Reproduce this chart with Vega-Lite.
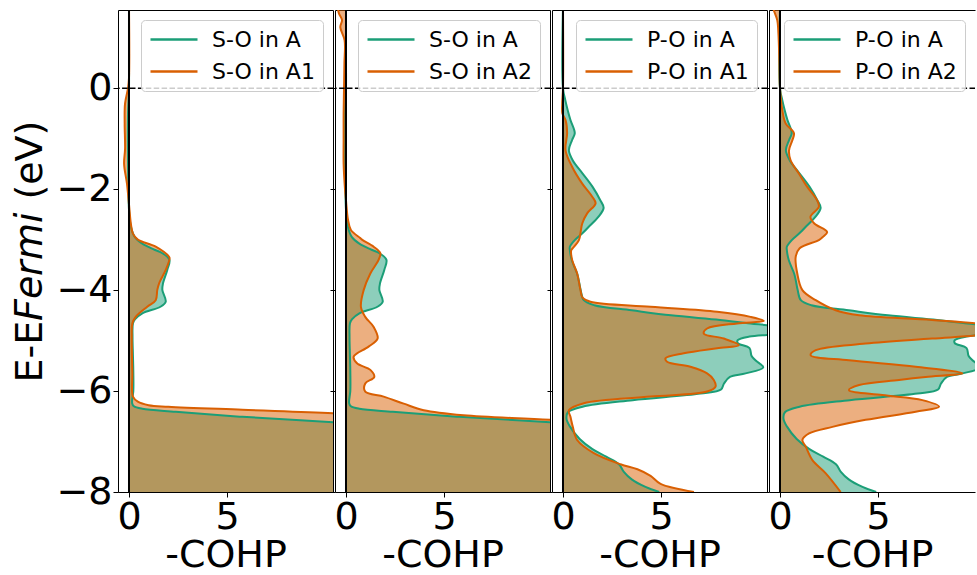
{
  "$schema": "https://vega.github.io/schema/vega-lite/v6.json",
  "padding": {"left": 11, "top": 8, "right": 0, "bottom": 0},
  "config": {
    "font": "DejaVu Sans",
    "view": {"stroke": "black", "strokeWidth": 1},
    "axis": {"labelFontSize": 38, "titleFontSize": 38, "labelColor": "black", "titleColor": "black", "tickColor": "black", "tickSize": 5, "tickWidth": 1, "grid": false, "domain": false, "labelFont": "DejaVu Sans", "titleFont": "DejaVu Sans", "titleFontWeight": "normal", "labelPadding": 1, "titlePadding": 0},
    "legend": {"symbolType": "M-1,0H3.7", "symbolSize": 400, "symbolStrokeWidth": 2.5, "labelFontSize": 22, "labelFont": "DejaVu Sans", "labelOffset": 40, "rowPadding": 9, "padding": 8, "fillColor": "rgba(255,255,255,0.8)", "strokeColor": "#cccccc", "cornerRadius": 4, "labelColor": "black"}
  },
  "data": {"values": [
    {"c":"S-O in A","E":1.6,"v":0},{"c":"S-O in A","E":0.5,"v":0},{"c":"S-O in A","E":0,"v":0},{"c":"S-O in A","E":-0.5,"v":-0.05},{"c":"S-O in A","E":-1.0,"v":-0.06},{"c":"S-O in A","E":-1.5,"v":-0.05},{"c":"S-O in A","E":-2.0,"v":-0.03},{"c":"S-O in A","E":-2.4,"v":0},{"c":"S-O in A","E":-2.75,"v":0.1},{"c":"S-O in A","E":-2.95,"v":0.3},{"c":"S-O in A","E":-3.08,"v":0.68},{"c":"S-O in A","E":-3.2,"v":1.3},{"c":"S-O in A","E":-3.27,"v":1.7},{"c":"S-O in A","E":-3.4,"v":2.06},{"c":"S-O in A","E":-3.6,"v":1.95},{"c":"S-O in A","E":-3.87,"v":1.73},{"c":"S-O in A","E":-4.0,"v":1.7},{"c":"S-O in A","E":-4.23,"v":1.87},{"c":"S-O in A","E":-4.33,"v":1.6},{"c":"S-O in A","E":-4.46,"v":0.68},{"c":"S-O in A","E":-4.58,"v":0.3},{"c":"S-O in A","E":-4.66,"v":0.2},{"c":"S-O in A","E":-4.93,"v":0.18},{"c":"S-O in A","E":-5.28,"v":0.2},{"c":"S-O in A","E":-5.61,"v":0.22},{"c":"S-O in A","E":-6.0,"v":0.22},{"c":"S-O in A","E":-6.24,"v":0.16},{"c":"S-O in A","E":-6.3,"v":0.25},{"c":"S-O in A","E":-6.35,"v":0.68},{"c":"S-O in A","E":-6.41,"v":2.38},{"c":"S-O in A","E":-6.51,"v":5.77},{"c":"S-O in A","E":-6.62,"v":10.46},{"c":"S-O in A","E":-6.75,"v":15},{"c":"S-O in A","E":-8,"v":30},
    {"c":"S-O in A1","E":1.6,"v":0},{"c":"S-O in A1","E":0.2,"v":0},{"c":"S-O in A1","E":0,"v":-0.05},{"c":"S-O in A1","E":-0.3,"v":-0.2},{"c":"S-O in A1","E":-0.7,"v":-0.22},{"c":"S-O in A1","E":-1.2,"v":-0.2},{"c":"S-O in A1","E":-1.5,"v":-0.25},{"c":"S-O in A1","E":-1.9,"v":-0.1},{"c":"S-O in A1","E":-2.3,"v":0},{"c":"S-O in A1","E":-2.7,"v":0.1},{"c":"S-O in A1","E":-2.88,"v":0.2},{"c":"S-O in A1","E":-3.0,"v":0.45},{"c":"S-O in A1","E":-3.14,"v":1.36},{"c":"S-O in A1","E":-3.34,"v":2.04},{"c":"S-O in A1","E":-3.37,"v":2.07},{"c":"S-O in A1","E":-3.6,"v":1.87},{"c":"S-O in A1","E":-3.87,"v":1.53},{"c":"S-O in A1","E":-4.0,"v":1.44},{"c":"S-O in A1","E":-4.2,"v":1.36},{"c":"S-O in A1","E":-4.33,"v":0.93},{"c":"S-O in A1","E":-4.53,"v":0.34},{"c":"S-O in A1","E":-4.66,"v":0.17},{"c":"S-O in A1","E":-4.93,"v":0.14},{"c":"S-O in A1","E":-5.65,"v":0.17},{"c":"S-O in A1","E":-6.11,"v":0.2},{"c":"S-O in A1","E":-6.21,"v":0.45},{"c":"S-O in A1","E":-6.28,"v":1.0},{"c":"S-O in A1","E":-6.31,"v":2.0},{"c":"S-O in A1","E":-6.37,"v":5.77},{"c":"S-O in A1","E":-6.44,"v":10.46},{"c":"S-O in A1","E":-6.55,"v":15},{"c":"S-O in A1","E":-8,"v":30},
    {"c":"S-O in A2","E":1.6,"v":-0.42},{"c":"S-O in A2","E":1.48,"v":-0.36},{"c":"S-O in A2","E":1.35,"v":-0.2},{"c":"S-O in A2","E":1.21,"v":-0.29},{"c":"S-O in A2","E":0.95,"v":-0.07},{"c":"S-O in A2","E":0.5,"v":-0.08},{"c":"S-O in A2","E":0,"v":-0.1},{"c":"S-O in A2","E":-0.5,"v":-0.12},{"c":"S-O in A2","E":-1.0,"v":-0.12},{"c":"S-O in A2","E":-1.5,"v":-0.12},{"c":"S-O in A2","E":-2.0,"v":-0.05},{"c":"S-O in A2","E":-2.22,"v":0},{"c":"S-O in A2","E":-2.6,"v":0.1},{"c":"S-O in A2","E":-2.81,"v":0.25},{"c":"S-O in A2","E":-2.97,"v":0.73},{"c":"S-O in A2","E":-3.01,"v":0.85},{"c":"S-O in A2","E":-3.14,"v":1.41},{"c":"S-O in A2","E":-3.27,"v":1.75},{"c":"S-O in A2","E":-3.4,"v":1.66},{"c":"S-O in A2","E":-3.67,"v":1.24},{"c":"S-O in A2","E":-4.0,"v":0.9},{"c":"S-O in A2","E":-4.33,"v":0.76},{"c":"S-O in A2","E":-4.53,"v":0.98},{"c":"S-O in A2","E":-4.73,"v":1.41},{"c":"S-O in A2","E":-4.96,"v":1.61},{"c":"S-O in A2","E":-5.12,"v":1.15},{"c":"S-O in A2","E":-5.32,"v":0.39},{"c":"S-O in A2","E":-5.45,"v":0.56},{"c":"S-O in A2","E":-5.58,"v":1.24},{"c":"S-O in A2","E":-5.72,"v":1.44},{"c":"S-O in A2","E":-5.85,"v":0.98},{"c":"S-O in A2","E":-6.01,"v":0.98},{"c":"S-O in A2","E":-6.11,"v":1.92},{"c":"S-O in A2","E":-6.25,"v":2.94},{"c":"S-O in A2","E":-6.38,"v":3.96},{"c":"S-O in A2","E":-6.48,"v":5.99},{"c":"S-O in A2","E":-6.57,"v":10.4},{"c":"S-O in A2","E":-6.7,"v":15},{"c":"S-O in A2","E":-8,"v":30},
    {"c":"P-O in A","E":1.6,"v":0},{"c":"P-O in A","E":0,"v":0},{"c":"P-O in A","E":-0.24,"v":0.12},{"c":"P-O in A","E":-0.45,"v":0.25},{"c":"P-O in A","E":-0.63,"v":0.38},{"c":"P-O in A","E":-0.89,"v":0.6},{"c":"P-O in A","E":-1.03,"v":0.46},{"c":"P-O in A","E":-1.23,"v":0.3},{"c":"P-O in A","E":-1.43,"v":0.5},{"c":"P-O in A","E":-1.69,"v":1.0},{"c":"P-O in A","E":-1.95,"v":1.5},{"c":"P-O in A","E":-2.22,"v":1.9},{"c":"P-O in A","E":-2.37,"v":2.07},{"c":"P-O in A","E":-2.55,"v":1.8},{"c":"P-O in A","E":-2.75,"v":1.3},{"c":"P-O in A","E":-2.87,"v":1.0},{"c":"P-O in A","E":-3.01,"v":0.6},{"c":"P-O in A","E":-3.14,"v":0.35},{"c":"P-O in A","E":-3.21,"v":0.35},{"c":"P-O in A","E":-3.41,"v":0.45},{"c":"P-O in A","E":-3.67,"v":0.72},{"c":"P-O in A","E":-3.8,"v":0.8},{"c":"P-O in A","E":-4.0,"v":0.9},{"c":"P-O in A","E":-4.2,"v":1.06},{"c":"P-O in A","E":-4.3,"v":1.6},{"c":"P-O in A","E":-4.4,"v":3.5},{"c":"P-O in A","E":-4.5,"v":5.5},{"c":"P-O in A","E":-4.59,"v":8.0},{"c":"P-O in A","E":-4.66,"v":9.55},{"c":"P-O in A","E":-4.72,"v":10.8},{"c":"P-O in A","E":-4.8,"v":11.5},{"c":"P-O in A","E":-4.87,"v":10.8},{"c":"P-O in A","E":-4.92,"v":9.5},{"c":"P-O in A","E":-4.99,"v":8.9},{"c":"P-O in A","E":-5.05,"v":8.9},{"c":"P-O in A","E":-5.15,"v":9.5},{"c":"P-O in A","E":-5.3,"v":9.6},{"c":"P-O in A","E":-5.39,"v":9.8},{"c":"P-O in A","E":-5.53,"v":10.2},{"c":"P-O in A","E":-5.65,"v":9.3},{"c":"P-O in A","E":-5.72,"v":8.5},{"c":"P-O in A","E":-5.85,"v":8.2},{"c":"P-O in A","E":-5.97,"v":8.05},{"c":"P-O in A","E":-6.05,"v":7.0},{"c":"P-O in A","E":-6.18,"v":3.55},{"c":"P-O in A","E":-6.31,"v":1.0},{"c":"P-O in A","E":-6.42,"v":0.25},{"c":"P-O in A","E":-6.55,"v":0.18},{"c":"P-O in A","E":-6.7,"v":0.35},{"c":"P-O in A","E":-6.95,"v":0.85},{"c":"P-O in A","E":-7.15,"v":1.5},{"c":"P-O in A","E":-7.3,"v":2.2},{"c":"P-O in A","E":-7.45,"v":2.85},{"c":"P-O in A","E":-7.6,"v":3.1},{"c":"P-O in A","E":-7.75,"v":3.5},{"c":"P-O in A","E":-7.9,"v":4.2},{"c":"P-O in A","E":-8.0,"v":4.9},
    {"c":"P-O in A1","E":1.6,"v":0},{"c":"P-O in A1","E":0,"v":0},{"c":"P-O in A1","E":-0.3,"v":-0.04},{"c":"P-O in A1","E":-0.5,"v":-0.03},{"c":"P-O in A1","E":-0.63,"v":0.13},{"c":"P-O in A1","E":-0.89,"v":0.21},{"c":"P-O in A1","E":-1.23,"v":0.13},{"c":"P-O in A1","E":-1.56,"v":0.47},{"c":"P-O in A1","E":-1.89,"v":0.98},{"c":"P-O in A1","E":-2.15,"v":1.49},{"c":"P-O in A1","E":-2.28,"v":1.66},{"c":"P-O in A1","E":-2.48,"v":1.23},{"c":"P-O in A1","E":-2.68,"v":0.98},{"c":"P-O in A1","E":-2.87,"v":0.89},{"c":"P-O in A1","E":-3.01,"v":0.81},{"c":"P-O in A1","E":-3.17,"v":0.5},{"c":"P-O in A1","E":-3.21,"v":0.42},{"c":"P-O in A1","E":-3.41,"v":0.47},{"c":"P-O in A1","E":-3.67,"v":0.72},{"c":"P-O in A1","E":-4.0,"v":0.89},{"c":"P-O in A1","E":-4.15,"v":1.0},{"c":"P-O in A1","E":-4.23,"v":1.4},{"c":"P-O in A1","E":-4.33,"v":4.46},{"c":"P-O in A1","E":-4.43,"v":7.85},{"c":"P-O in A1","E":-4.53,"v":9.55},{"c":"P-O in A1","E":-4.61,"v":10.23},{"c":"P-O in A1","E":-4.66,"v":8.87},{"c":"P-O in A1","E":-4.76,"v":7.34},{"c":"P-O in A1","E":-4.86,"v":7.17},{"c":"P-O in A1","E":-4.96,"v":8.19},{"c":"P-O in A1","E":-5.09,"v":8.96},{"c":"P-O in A1","E":-5.15,"v":7.85},{"c":"P-O in A1","E":-5.25,"v":6.15},{"c":"P-O in A1","E":-5.35,"v":5.22},{"c":"P-O in A1","E":-5.42,"v":5.3},{"c":"P-O in A1","E":-5.52,"v":6.49},{"c":"P-O in A1","E":-5.65,"v":7.34},{"c":"P-O in A1","E":-5.78,"v":7.68},{"c":"P-O in A1","E":-5.91,"v":7.77},{"c":"P-O in A1","E":-6.01,"v":7.34},{"c":"P-O in A1","E":-6.11,"v":4.46},{"c":"P-O in A1","E":-6.24,"v":1.06},{"c":"P-O in A1","E":-6.38,"v":0.3},{"c":"P-O in A1","E":-6.51,"v":0.38},{"c":"P-O in A1","E":-6.71,"v":0.5},{"c":"P-O in A1","E":-6.97,"v":0.72},{"c":"P-O in A1","E":-7.23,"v":1.57},{"c":"P-O in A1","E":-7.45,"v":2.93},{"c":"P-O in A1","E":-7.55,"v":3.79},{"c":"P-O in A1","E":-7.68,"v":4.46},{"c":"P-O in A1","E":-7.84,"v":4.97},{"c":"P-O in A1","E":-8.0,"v":6.67},
    {"c":"P-O in A2","E":1.6,"v":-0.35},{"c":"P-O in A2","E":1.54,"v":-0.31},{"c":"P-O in A2","E":1.35,"v":-0.14},{"c":"P-O in A2","E":1.08,"v":-0.08},{"c":"P-O in A2","E":0.5,"v":-0.03},{"c":"P-O in A2","E":0,"v":0},{"c":"P-O in A2","E":-0.44,"v":0.12},{"c":"P-O in A2","E":-0.7,"v":0.29},{"c":"P-O in A2","E":-0.89,"v":0.71},{"c":"P-O in A2","E":-1.03,"v":0.63},{"c":"P-O in A2","E":-1.23,"v":0.46},{"c":"P-O in A2","E":-1.43,"v":0.54},{"c":"P-O in A2","E":-1.69,"v":0.96},{"c":"P-O in A2","E":-1.95,"v":1.38},{"c":"P-O in A2","E":-2.22,"v":1.89},{"c":"P-O in A2","E":-2.35,"v":1.98},{"c":"P-O in A2","E":-2.55,"v":1.55},{"c":"P-O in A2","E":-2.68,"v":1.75},{"c":"P-O in A2","E":-2.85,"v":2.4},{"c":"P-O in A2","E":-2.94,"v":2.2},{"c":"P-O in A2","E":-3.01,"v":1.98},{"c":"P-O in A2","E":-3.17,"v":1.0},{"c":"P-O in A2","E":-3.34,"v":0.8},{"c":"P-O in A2","E":-3.67,"v":0.88},{"c":"P-O in A2","E":-4.0,"v":1.14},{"c":"P-O in A2","E":-4.2,"v":1.82},{"c":"P-O in A2","E":-4.4,"v":2.84},{"c":"P-O in A2","E":-4.5,"v":4.03},{"c":"P-O in A2","E":-4.59,"v":7.75},{"c":"P-O in A2","E":-4.69,"v":10.5},{"c":"P-O in A2","E":-4.76,"v":11.0},{"c":"P-O in A2","E":-4.85,"v":10.5},{"c":"P-O in A2","E":-4.89,"v":10.14},{"c":"P-O in A2","E":-4.96,"v":7.75},{"c":"P-O in A2","E":-5.06,"v":4.36},{"c":"P-O in A2","E":-5.19,"v":1.82},{"c":"P-O in A2","E":-5.29,"v":1.56},{"c":"P-O in A2","E":-5.39,"v":3.51},{"c":"P-O in A2","E":-5.52,"v":6.91},{"c":"P-O in A2","E":-5.65,"v":9.29},{"c":"P-O in A2","E":-5.72,"v":7.42},{"c":"P-O in A2","E":-5.78,"v":6.06},{"c":"P-O in A2","E":-5.88,"v":4.03},{"c":"P-O in A2","E":-5.98,"v":3.51},{"c":"P-O in A2","E":-6.08,"v":5.21},{"c":"P-O in A2","E":-6.18,"v":7.25},{"c":"P-O in A2","E":-6.31,"v":8.1},{"c":"P-O in A2","E":-6.41,"v":6.91},{"c":"P-O in A2","E":-6.57,"v":4.36},{"c":"P-O in A2","E":-6.71,"v":2.67},{"c":"P-O in A2","E":-6.84,"v":1.48},{"c":"P-O in A2","E":-6.97,"v":1.14},{"c":"P-O in A2","E":-7.1,"v":1.31},{"c":"P-O in A2","E":-7.37,"v":1.65},{"c":"P-O in A2","E":-7.63,"v":2.33},{"c":"P-O in A2","E":-8.0,"v":3.09}
  ]},
  "spacing": 2,
  "bounds": "flush",
  "resolve": {"scale": {"x": "independent", "y": "independent", "color": "independent"}, "axis": {"x": "independent", "y": "independent"}, "legend": {"color": "independent"}},
  "hconcat": [
    {
      "width": 215, "height": 482,
      "transform": [{"filter": {"field": "c", "oneOf": ["S-O in A", "S-O in A1"]}}],
      "resolve": {"scale": {"color": "independent"}, "legend": {"color": "independent"}},
      "layer": [
        {"mark": {"type": "area", "orient": "horizontal", "fillOpacity": 0.5, "clip": true, "interpolate": "catmull-rom"},
         "encoding": {
           "y": {"field": "E", "type": "quantitative", "scale": {"domain": [-8, 1.55], "nice": false, "zero": false}, "axis": {"values": [0, -2, -4, -6, -8], "title": "E-E𝘍𝘦𝘳𝘮𝘪 (eV)", "titlePadding": 6}},
           "x": {"field": "v", "type": "quantitative", "stack": null, "scale": {"domain": [-0.56, 10.39], "nice": false, "zero": false}, "axis": {"values": [0, 5], "title": "-COHP"}},
           "x2": {"datum": 0},
           "color": {"field": "c", "type": "nominal", "scale": {"domain": ["S-O in A", "S-O in A1"], "range": ["#1b9e77", "#d95f02"]}, "legend": null}
         }},
        {"mark": {"type": "line", "strokeWidth": 2, "clip": true, "interpolate": "catmull-rom"},
         "encoding": {
           "y": {"field": "E", "type": "quantitative"},
           "x": {"field": "v", "type": "quantitative"},
           "order": {"field": "E", "type": "quantitative"},
           "color": {"field": "c", "type": "nominal", "scale": {"domain": ["S-O in A", "S-O in A1"], "range": ["#1b9e77", "#d95f02"]}, "legend": {"orient": "top-right", "offset": 10, "title": null}}
         }},
        {"data": {"values": [{}]}, "mark": {"type": "rule", "color": "black", "strokeWidth": 2}, "encoding": {"x": {"datum": 0}}},
        {"data": {"values": [{}]}, "mark": {"type": "rule", "color": "black", "strokeWidth": 1.5, "strokeDash": [5.5, 2.4]}, "encoding": {"y": {"datum": 0}}}
      ]
    },
    {
      "width": 215, "height": 482,
      "transform": [{"filter": {"field": "c", "oneOf": ["S-O in A", "S-O in A2"]}}],
      "resolve": {"scale": {"color": "independent"}, "legend": {"color": "independent"}},
      "layer": [
        {"mark": {"type": "area", "orient": "horizontal", "fillOpacity": 0.5, "clip": true, "interpolate": "catmull-rom"},
         "encoding": {
           "y": {"field": "E", "type": "quantitative", "scale": {"domain": [-8, 1.55], "nice": false, "zero": false}, "axis": {"values": [0, -2, -4, -6, -8], "labels": false, "title": null}},
           "x": {"field": "v", "type": "quantitative", "stack": null, "scale": {"domain": [-0.56, 10.39], "nice": false, "zero": false}, "axis": {"values": [0, 5], "title": "-COHP"}},
           "x2": {"datum": 0},
           "color": {"field": "c", "type": "nominal", "scale": {"domain": ["S-O in A", "S-O in A2"], "range": ["#1b9e77", "#d95f02"]}, "legend": null}
         }},
        {"mark": {"type": "line", "strokeWidth": 2, "clip": true, "interpolate": "catmull-rom"},
         "encoding": {
           "y": {"field": "E", "type": "quantitative"},
           "x": {"field": "v", "type": "quantitative"},
           "order": {"field": "E", "type": "quantitative"},
           "color": {"field": "c", "type": "nominal", "scale": {"domain": ["S-O in A", "S-O in A2"], "range": ["#1b9e77", "#d95f02"]}, "legend": {"orient": "top-right", "offset": 10, "title": null}}
         }},
        {"data": {"values": [{}]}, "mark": {"type": "rule", "color": "black", "strokeWidth": 2}, "encoding": {"x": {"datum": 0}}},
        {"data": {"values": [{}]}, "mark": {"type": "rule", "color": "black", "strokeWidth": 1.5, "strokeDash": [5.5, 2.4]}, "encoding": {"y": {"datum": 0}}}
      ]
    },
    {
      "width": 215, "height": 482,
      "transform": [{"filter": {"field": "c", "oneOf": ["P-O in A", "P-O in A1"]}}],
      "resolve": {"scale": {"color": "independent"}, "legend": {"color": "independent"}},
      "layer": [
        {"mark": {"type": "area", "orient": "horizontal", "fillOpacity": 0.5, "clip": true, "interpolate": "catmull-rom"},
         "encoding": {
           "y": {"field": "E", "type": "quantitative", "scale": {"domain": [-8, 1.55], "nice": false, "zero": false}, "axis": {"values": [0, -2, -4, -6, -8], "labels": false, "title": null}},
           "x": {"field": "v", "type": "quantitative", "stack": null, "scale": {"domain": [-0.56, 10.39], "nice": false, "zero": false}, "axis": {"values": [0, 5], "title": "-COHP"}},
           "x2": {"datum": 0},
           "color": {"field": "c", "type": "nominal", "scale": {"domain": ["P-O in A", "P-O in A1"], "range": ["#1b9e77", "#d95f02"]}, "legend": null}
         }},
        {"mark": {"type": "line", "strokeWidth": 2, "clip": true, "interpolate": "catmull-rom"},
         "encoding": {
           "y": {"field": "E", "type": "quantitative"},
           "x": {"field": "v", "type": "quantitative"},
           "order": {"field": "E", "type": "quantitative"},
           "color": {"field": "c", "type": "nominal", "scale": {"domain": ["P-O in A", "P-O in A1"], "range": ["#1b9e77", "#d95f02"]}, "legend": {"orient": "top-right", "offset": 10, "title": null}}
         }},
        {"data": {"values": [{}]}, "mark": {"type": "rule", "color": "black", "strokeWidth": 2}, "encoding": {"x": {"datum": 0}}},
        {"data": {"values": [{}]}, "mark": {"type": "rule", "color": "black", "strokeWidth": 1.5, "strokeDash": [5.5, 2.4]}, "encoding": {"y": {"datum": 0}}}
      ]
    },
    {
      "width": 206, "height": 482,
      "view": {"stroke": null},
      "transform": [{"filter": {"field": "c", "oneOf": ["P-O in A", "P-O in A2"]}}],
      "resolve": {"axis": {"x": "independent"}, "scale": {"color": "independent"}, "legend": {"color": "independent"}},
      "layer": [
        {"mark": {"type": "area", "orient": "horizontal", "fillOpacity": 0.5, "clip": true, "interpolate": "catmull-rom"},
         "encoding": {
           "y": {"field": "E", "type": "quantitative", "scale": {"domain": [-8, 1.55], "nice": false, "zero": false}, "axis": {"values": [0, -2, -4, -6, -8], "labels": false, "title": null, "domain": true, "domainColor": "black"}},
           "x": {"field": "v", "type": "quantitative", "stack": null, "scale": {"domain": [-0.56, 9.93], "nice": false, "zero": false}, "axis": {"values": [0, 5], "title": "-COHP", "domain": true, "domainColor": "black"}},
           "x2": {"datum": 0},
           "color": {"field": "c", "type": "nominal", "scale": {"domain": ["P-O in A", "P-O in A2"], "range": ["#1b9e77", "#d95f02"]}, "legend": null}
         }},
        {"mark": {"type": "line", "strokeWidth": 2, "clip": true, "interpolate": "catmull-rom"},
         "encoding": {
           "y": {"field": "E", "type": "quantitative"},
           "x": {"field": "v", "type": "quantitative", "axis": null},
           "order": {"field": "E", "type": "quantitative"},
           "color": {"field": "c", "type": "nominal", "scale": {"domain": ["P-O in A", "P-O in A2"], "range": ["#1b9e77", "#d95f02"]}, "legend": {"orient": "top-right", "offset": 10, "title": null}}
         }},
        {"data": {"values": [{}]}, "mark": {"type": "rule", "color": "black", "strokeWidth": 2}, "encoding": {"x": {"datum": 0, "axis": {"orient": "top", "labels": false, "ticks": false, "title": null, "domain": true, "domainColor": "black"}}}},
        {"data": {"values": [{}]}, "mark": {"type": "rule", "color": "black", "strokeWidth": 1.5, "strokeDash": [5.5, 2.4]}, "encoding": {"y": {"datum": 0}}}
      ]
    }
  ]
}
